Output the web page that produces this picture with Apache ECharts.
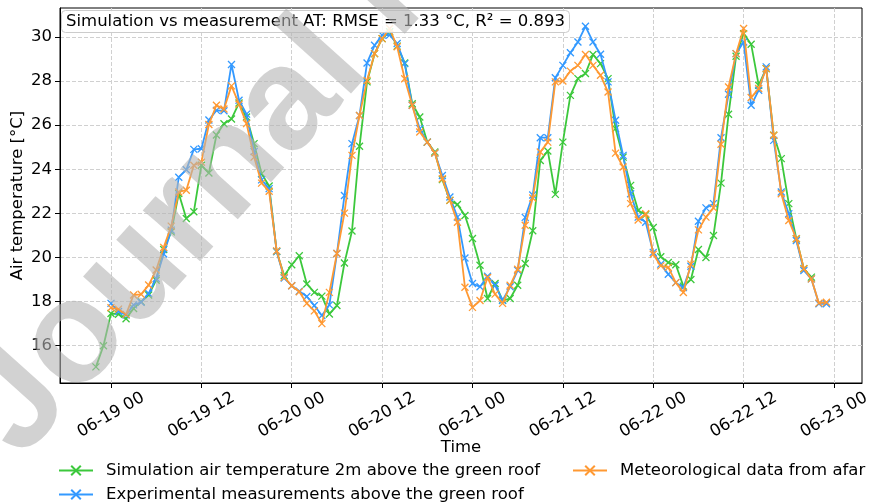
<!DOCTYPE html>
<html>
<head>
<meta charset="utf-8">
<script src="https://cdn.jsdelivr.net/npm/echarts@6/dist/echarts.min.js"></script>
<style>
  html, body { margin: 0; padding: 0; background: #ffffff; }
  #chart { width: 871px; height: 503px; }
</style>
</head>
<body>
<div id="chart"></div>
<script>
// Hourly samples; x is measured in hours from 06-19 00:00, first sample at 06-18 22:00.
const firstHour = -2;

// Simulated air temperature 2 m above the green roof (°C), 06-18 22:00 .. 06-22 23:00
const simulated = [
  15.04, 16.0, 17.46, 17.43, 17.22, 17.69, 17.99, 18.3, 18.97, 20.36,
  21.16, 22.9, 21.77, 22.07, 24.18, 23.83, 25.55, 26.06, 26.28, 27.0,
  26.37, 25.16, 23.8, 23.24, 20.27, 19.17, 19.67, 20.08, 18.8, 18.42,
  18.25, 17.44, 17.82, 19.75, 21.2, 25.04, 27.96, 29.24, 29.92, 30.23,
  29.58, 28.82, 26.97, 26.37, 25.23, 24.78, 23.53, 22.59, 22.4, 21.9,
  20.86, 19.65, 18.14, 18.82, 18.06, 18.14, 18.74, 19.73, 21.21, 24.4,
  24.83, 22.86, 25.23, 27.35, 28.11, 28.34, 29.2, 28.79, 28.11, 25.84,
  24.55, 23.27, 22.13, 21.95, 21.36, 20.03, 19.77, 19.67, 18.7, 19.0,
  20.36, 20.0, 21.0, 23.37, 26.49, 29.12, 30.15, 29.67, 27.81, 28.56,
  25.54, 24.48, 22.44, 20.85, 19.49, 19.11, null, null
];

// Measured air temperature above the green roof (°C)
const measured = [
  null, null,
  17.92, 17.55, 17.39, 17.85, 17.97, 18.37, 19.05, 20.16, 21.24, 23.64,
  23.98, 24.9, 24.93, 26.23, 26.67, 26.65, 28.75, 27.13, 26.5, 24.8,
  23.52, 23.12, 20.27, 19.07, 18.72, 18.47, 18.23, 17.82, 17.37, 17.85,
  20.18, 22.81, 25.16, 26.44, 28.82, 29.62, 30.08, 30.08, 29.7, 28.79,
  26.9, 25.84, 25.23, 24.74, 23.72, 22.74, 21.83, 19.98, 18.82, 18.67,
  19.15, 18.74, 18.06, 18.67, 19.42, 21.82, 22.83, 25.43, 25.43, 28.15,
  28.71, 29.28, 29.77, 30.48, 29.77, 29.21, 27.96, 26.22, 24.63, 22.89,
  21.83, 21.6, 20.23, 19.7, 19.24, 18.86, 18.64, 19.6, 21.64, 22.25,
  22.44, 25.43, 27.4, 29.24, 29.77, 26.9, 27.58, 28.64, 25.31, 22.97,
  21.98, 20.77, 19.41, 19.03, 17.9, 17.9
];

// Meteorological station data from afar (°C)
const meteo = [
  null, null,
  17.72, 17.66, 17.42, 18.3, 18.33, 18.75, 19.43, 20.46, 21.42, 22.97,
  23.05, 24.18, 24.32, 26.03, 26.9, 26.73, 27.78, 26.95, 26.07, 24.55,
  23.37, 23.0, 20.3, 19.1, 18.72, 18.45, 17.92, 17.58, 17.0, 18.42,
  20.18, 22.01, 24.63, 26.44, 28.03, 29.24, 29.92, 30.38, 29.55, 28.1,
  26.9, 25.69, 25.23, 24.74, 23.57, 22.59, 21.6, 18.65, 17.74, 18.05,
  19.09, 18.34, 17.92, 18.74, 19.47, 21.46, 22.7, 24.78, 25.23, 27.96,
  28.0, 28.45, 28.71, 29.2, 28.71, 28.26, 27.5, 24.73, 24.1, 22.44,
  21.7, 21.98, 20.15, 19.62, 19.55, 18.86, 18.41, 19.7, 21.25, 21.83,
  22.25, 25.13, 27.73, 29.24, 30.38, 27.25, 27.66, 28.56, 25.54, 22.89,
  21.68, 20.85, 19.49, 19.03, 17.93, 17.97
];

const xTickHours = [0, 12, 24, 36, 48, 60, 72, 84, 96];
const xTickLabels = ['06-19 00', '06-19 12', '06-20 00', '06-20 12', '06-21 00',
                     '06-21 12', '06-22 00', '06-22 12', '06-23 00'];
const yTicks = [16, 18, 20, 22, 24, 26, 28, 30];

const seriesNames = [
  'Simulation air temperature 2m above the green roof',
  'Experimental measurements above the green roof',
  'Meteorological data from afar'
];
const seriesColors = ['#3cc83c', '#3399ff', '#ff9933'];

const FONT = '"DejaVu Sans", Verdana, sans-serif';
const crossMark = 'path://M0,0L10,10M10,0L0,10';

function toPoints(values) {
  return values.map((v, i) => [firstHour + i, v]);
}

function lineSeries(idx, values) {
  const c = seriesColors[idx];
  return {
    name: seriesNames[idx],
    type: 'line',
    data: toPoints(values),
    symbol: crossMark,
    symbolSize: 7,
    showSymbol: true,
    itemStyle: { color: c, borderColor: c, borderWidth: 1.3 },
    lineStyle: { color: c, width: 1.8 },
    emphasis: { disabled: true },
    z: 3 + idx
  };
}

function legendFor(idx, left, top) {
  return {
    data: [seriesNames[idx]],
    left: left,
    top: top,
    padding: 0,
    itemWidth: 34,
    itemHeight: 12,
    itemGap: 0,
    selectedMode: false,
    textStyle: { fontFamily: FONT, fontSize: 16.5, color: '#000', padding: [0, 0, 0, 8] }
  };
}

const chart = echarts.init(document.getElementById('chart'), null, { renderer: 'canvas' });

chart.setOption({
  animation: false,
  backgroundColor: '#ffffff',
  title: {
    text: 'Simulation vs measurement AT: RMSE = 1.33 °C, R² = 0.893',
    left: 61,
    top: 10,
    padding: [3, 5],
    backgroundColor: 'rgba(255,255,255,0.85)',
    borderColor: '#cccccc',
    borderWidth: 1,
    borderRadius: 4,
    textStyle: { fontFamily: FONT, fontSize: 16.5, fontWeight: 'normal', color: '#000' },
    z: 20
  },
  grid: {
    left: 60, top: 8, width: 802, height: 375,
    outerBoundsMode: 'none',
    containLabel: false,
    show: true, borderColor: '#000', borderWidth: 1, backgroundColor: 'transparent'
  },
  xAxis: {
    type: 'value',
    min: -6.77,
    max: 99.72,
    name: 'Time',
    nameLocation: 'middle',
    nameGap: 56,
    nameMoveOverlap: false,
    nameTextStyle: { fontFamily: FONT, fontSize: 16.5, color: '#000' },
    axisLine: { show: true, onZero: false, lineStyle: { color: '#000', width: 1 } },
    axisTick: { show: true, length: 5, customValues: xTickHours, lineStyle: { color: '#000' } },
    axisLabel: {
      customValues: xTickHours,
      formatter: (v) => xTickLabels[xTickHours.indexOf(Math.round(v))] || '',
      rotate: 30,
      align: 'center',
      verticalAlign: 'middle',
      margin: 32,
      fontFamily: FONT,
      fontSize: 16.5,
      color: '#000'
    },
    splitLine: { show: true, lineStyle: { color: '#d0d0d0', width: 1, type: [4, 2] } }
  },
  yAxis: {
    type: 'value',
    min: 14.31,
    max: 31.31,
    name: 'Air temperature [°C]',
    nameLocation: 'middle',
    nameGap: 34,
    nameMoveOverlap: false,
    nameTextStyle: { fontFamily: FONT, fontSize: 16.5, color: '#000' },
    axisLine: { show: true, onZero: false, lineStyle: { color: '#000', width: 1 } },
    axisTick: { show: true, length: 5, customValues: yTicks, lineStyle: { color: '#000' } },
    axisLabel: {
      customValues: yTicks,
      margin: 8,
      fontFamily: FONT,
      fontSize: 16.5,
      color: '#000'
    },
    splitLine: { show: true, lineStyle: { color: '#d0d0d0', width: 1, type: [4, 2] } }
  },
  legend: [
    legendFor(0, 58, 462),
    legendFor(2, 572, 462),
    legendFor(1, 58, 486)
  ],
  series: [
    lineSeries(0, simulated),
    lineSeries(1, measured),
    lineSeries(2, meteo)
  ],
  graphic: [{
    type: 'text',
    x: 45,
    y: 482,
    rotation: 48 * Math.PI / 180,
    silent: true,
    z: 100,
    style: {
      text: 'Journal Pre-proof',
      font: 'bold 145px "Liberation Sans", Arial, sans-serif',
      fill: '#b4b4b4',
      opacity: 0.6,
      textAlign: 'left',
      textVerticalAlign: 'bottom'
    }
  }]
});
</script>
</body>
</html>
